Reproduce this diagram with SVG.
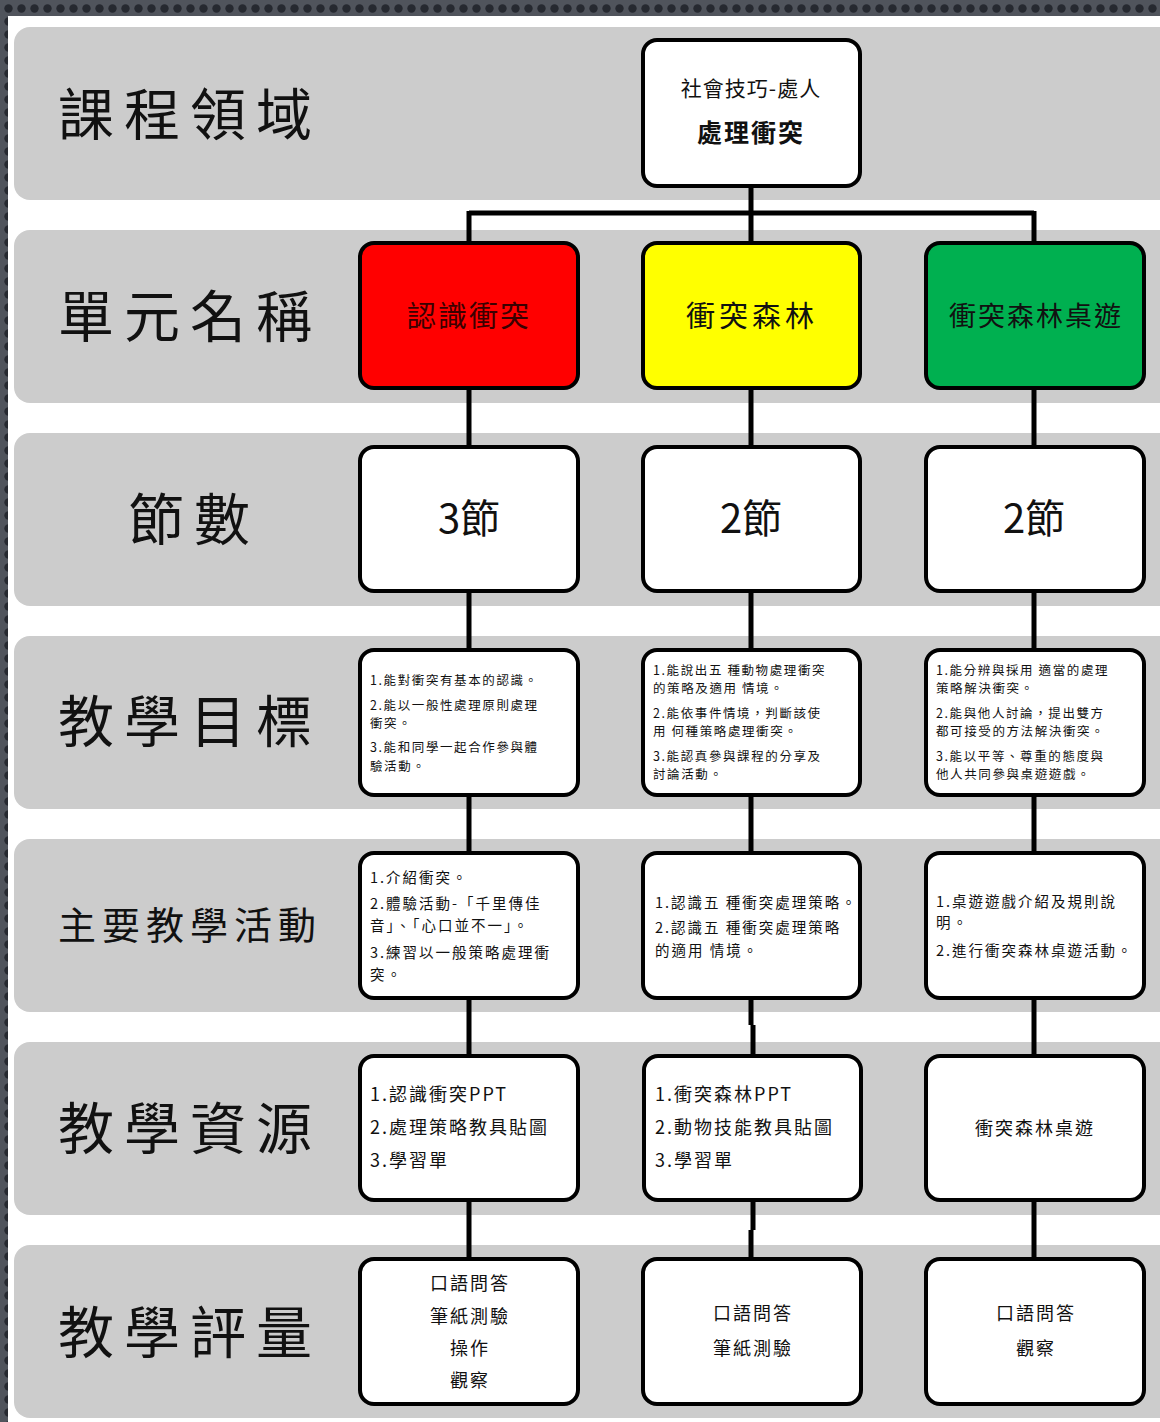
<svg xmlns="http://www.w3.org/2000/svg" width="1160" height="1422" viewBox="0 0 1160 1422">
<defs>
<pattern id="dots" width="13" height="13" patternUnits="userSpaceOnUse" x="2" y="2">
<rect width="13" height="13" fill="#50545c"/>
<circle cx="6.5" cy="6.5" r="4.2" fill="#262930"/>
</pattern>
<style>
.row{fill:#cccccc}
.node{fill:#ffffff;stroke:#000;stroke-width:4}
.lbl{font-family:"Noto Sans CJK TC","Noto Sans CJK SC",sans-serif;fill:#111;dominant-baseline:central}
.big{font-size:56px;letter-spacing:10px}
.t{font-family:"Noto Sans CJK TC","Noto Sans CJK SC",sans-serif;fill:#111;dominant-baseline:central}
.c{text-anchor:middle}
.s13{font-size:12.5px;letter-spacing:1.6px}
.s15{font-size:14.5px;letter-spacing:2px}
.s18{font-size:18px;letter-spacing:2px}
.conn{stroke:#000;stroke-width:5;fill:none}
</style>
</defs>
<rect width="1160" height="1422" fill="url(#dots)"/>
<rect x="8" y="16" width="1152" height="1406" fill="#ffffff"/>

<g id="rows">
<rect class="row" x="14" y="27" width="1170" height="173" rx="16"/>
<rect class="row" x="14" y="230" width="1170" height="173" rx="16"/>
<rect class="row" x="14" y="433" width="1170" height="173" rx="16"/>
<rect class="row" x="14" y="636" width="1170" height="173" rx="16"/>
<rect class="row" x="14" y="839" width="1170" height="173" rx="16"/>
<rect class="row" x="14" y="1042" width="1170" height="173" rx="16"/>
<rect class="row" x="14" y="1245" width="1170" height="173" rx="16"/>
</g>

<g id="labels">
<text class="lbl big" x="58" y="110">課程領域</text>
<text class="lbl big" x="58" y="312">單元名稱</text>
<text class="lbl big" x="128" y="515">節數</text>
<text class="lbl big" x="58" y="717">教學目標</text>
<text class="lbl" x="58" y="922" style="font-size:38px;letter-spacing:6px">主要教學活動</text>
<text class="lbl big" x="58" y="1124">教學資源</text>
<text class="lbl big" x="58" y="1328">教學評量</text>
</g>

<g id="connectors">
<path class="conn" d="M751 186 V213 M469 213 H1034 M469 211 V243 M751 213 V243 M1034 211 V243"/>
<path class="conn" d="M469 388 V447 M751 388 V447 M1034 388 V447"/>
<path class="conn" d="M469 591 V650 M751 591 V650 M1034 591 V650"/>
<path class="conn" d="M469 795 V853 M751 795 V853 M1034 795 V853"/>
<path class="conn" d="M469 998 V1056 M751 998 V1025 M753 1025 V1056 M1034 998 V1056"/>
<path class="conn" d="M469 1200 V1259 M753 1200 V1230 M751 1230 V1259 M1034 1200 V1259"/>
</g>

<g id="node-top">
<rect class="node" x="643" y="40" width="217" height="146" rx="14"/>
<text class="t c" x="751" y="87" style="font-size:21px;letter-spacing:1px">社會技巧-處人</text>
<text class="t c" x="751" y="131" style="font-size:25px;font-weight:bold;letter-spacing:2px">處理衝突</text>
</g>

<g id="node-u1">
<rect class="node" x="360" y="243" width="218" height="145" rx="14" style="fill:#ff0000"/>
<text class="t c" x="469" y="314" style="font-size:29px;letter-spacing:2px;fill:#3a0000">認識衝突</text>
</g>
<g id="node-u2">
<rect class="node" x="643" y="243" width="217" height="145" rx="14" style="fill:#ffff00"/>
<text class="t c" x="752" y="314" style="font-size:29px;letter-spacing:4px">衝突森林</text>
</g>
<g id="node-u3">
<rect class="node" x="926" y="243" width="218" height="145" rx="14" style="fill:#00b050"/>
<text class="t c" x="1036" y="314" style="font-size:27px;letter-spacing:2px">衝突森林桌遊</text>
</g>

<g id="node-n1">
<rect class="node" x="360" y="447" width="218" height="144" rx="14"/>
<text class="t c" x="469" y="516" style="font-size:40px">3節</text>
</g>
<g id="node-n2">
<rect class="node" x="643" y="447" width="217" height="144" rx="14"/>
<text class="t c" x="751" y="516" style="font-size:40px">2節</text>
</g>
<g id="node-n3">
<rect class="node" x="926" y="447" width="218" height="144" rx="14"/>
<text class="t c" x="1034" y="516" style="font-size:40px">2節</text>
</g>

<g id="node-o1">
<rect class="node" x="360" y="650" width="218" height="145" rx="14"/>
<text class="t s13" x="370" y="679">1.能對衝突有基本的認識。</text>
<text class="t s13" x="370" y="704">2.能以一般性處理原則處理</text>
<text class="t s13" x="370" y="722">衝突。</text>
<text class="t s13" x="370" y="746">3.能和同學一起合作參與體</text>
<text class="t s13" x="370" y="765">驗活動。</text>
</g>
<g id="node-o2">
<rect class="node" x="643" y="650" width="217" height="145" rx="14"/>
<text class="t s13" x="653" y="669">1.能說出五 種動物處理衝突</text>
<text class="t s13" x="653" y="687">的策略及適用 情境。</text>
<text class="t s13" x="653" y="712">2.能依事件情境，判斷該使</text>
<text class="t s13" x="653" y="730">用 何種策略處理衝突。</text>
<text class="t s13" x="653" y="755">3.能認真參與課程的分享及</text>
<text class="t s13" x="653" y="773">討論活動。</text>
</g>
<g id="node-o3">
<rect class="node" x="926" y="650" width="218" height="145" rx="14"/>
<text class="t s13" x="936" y="669">1.能分辨與採用 適當的處理</text>
<text class="t s13" x="936" y="687">策略解決衝突。</text>
<text class="t s13" x="936" y="712">2.能與他人討論，提出雙方</text>
<text class="t s13" x="936" y="730">都可接受的方法解決衝突。</text>
<text class="t s13" x="936" y="755">3.能以平等、尊重的態度與</text>
<text class="t s13" x="936" y="773">他人共同參與桌遊遊戲。</text>
</g>

<g id="node-a1">
<rect class="node" x="360" y="853" width="218" height="145" rx="14"/>
<text class="t s15" x="370" y="876">1.介紹衝突。</text>
<text class="t s15" x="370" y="902">2.體驗活動-「千里傳佳</text>
<text class="t s15" x="370" y="924">音」、「心口並不一」。</text>
<text class="t s15" x="370" y="951">3.練習以一般策略處理衝</text>
<text class="t s15" x="370" y="973">突。</text>
</g>
<g id="node-a2">
<rect class="node" x="643" y="853" width="217" height="145" rx="14"/>
<text class="t s15" x="655" y="901">1.認識五 種衝突處理策略。</text>
<text class="t s15" x="655" y="926">2.認識五 種衝突處理策略</text>
<text class="t s15" x="655" y="949">的適用 情境。</text>
</g>
<g id="node-a3">
<rect class="node" x="926" y="853" width="218" height="145" rx="14"/>
<text class="t s15" x="936" y="900">1.桌遊遊戲介紹及規則說</text>
<text class="t s15" x="936" y="921">明。</text>
<text class="t s15" x="936" y="949">2.進行衝突森林桌遊活動。</text>
</g>

<g id="node-r1">
<rect class="node" x="360" y="1056" width="218" height="144" rx="14"/>
<text class="t s18" x="370" y="1093">1.認識衝突PPT</text>
<text class="t s18" x="370" y="1126">2.處理策略教具貼圖</text>
<text class="t s18" x="370" y="1159">3.學習單</text>
</g>
<g id="node-r2">
<rect class="node" x="644" y="1056" width="217" height="144" rx="14"/>
<text class="t s18" x="655" y="1093">1.衝突森林PPT</text>
<text class="t s18" x="655" y="1126">2.動物技能教具貼圖</text>
<text class="t s18" x="655" y="1159">3.學習單</text>
</g>
<g id="node-r3">
<rect class="node" x="926" y="1056" width="218" height="144" rx="14"/>
<text class="t c s18" x="1035" y="1127">衝突森林桌遊</text>
</g>

<g id="node-e1">
<rect class="node" x="360" y="1259" width="218" height="145" rx="14"/>
<text class="t c s18" x="470" y="1282">口語問答</text>
<text class="t c s18" x="470" y="1315">筆紙測驗</text>
<text class="t c s18" x="470" y="1347">操作</text>
<text class="t c s18" x="470" y="1379">觀察</text>
</g>
<g id="node-e2">
<rect class="node" x="643" y="1259" width="218" height="145" rx="14"/>
<text class="t c s18" x="753" y="1312">口語問答</text>
<text class="t c s18" x="753" y="1347">筆紙測驗</text>
</g>
<g id="node-e3">
<rect class="node" x="926" y="1259" width="218" height="145" rx="14"/>
<text class="t c s18" x="1036" y="1312">口語問答</text>
<text class="t c s18" x="1036" y="1347">觀察</text>
</g>
</svg>
